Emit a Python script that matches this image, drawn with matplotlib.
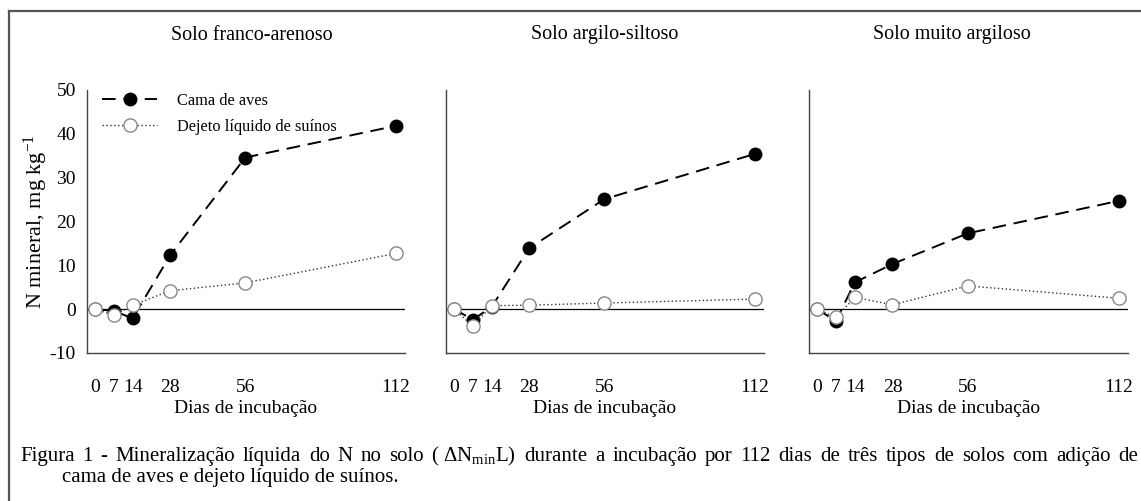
import matplotlib
matplotlib.use("Agg")
import matplotlib.pyplot as plt
from matplotlib.lines import Line2D

plt.rcParams["font.family"] = ["Liberation Serif", "DejaVu Serif"]
plt.rcParams["mathtext.fontset"] = "custom"
plt.rcParams["mathtext.rm"] = "Liberation Serif"
plt.rcParams["mathtext.it"] = "Liberation Serif:italic"
plt.rcParams["axes.unicode_minus"] = False

DAYS = [0, 7, 14, 28, 56, 112]
SOILS = ["Solo franco-arenoso", "Solo argilo-siltoso", "Solo muito argiloso"]
SERIES = ["Cama de aves", "Dejeto líquido de suínos"]

cama_aves = [
    [0.0, -0.4, -2.1, 12.3, 34.6, 41.8],
    [0.0, -2.4, 0.5, 13.9, 25.1, 35.4],
    [0.0, -2.7, 6.1, 10.3, 17.3, 24.7],
]
dejeto_suinos = [
    [0.0, -1.4, 0.9, 4.2, 6.0, 12.7],
    [0.0, -3.9, 0.8, 0.9, 1.4, 2.3],
    [0.0, -1.9, 2.7, 1.0, 5.3, 2.5],
]

CAPTION_1 = ("Figura 1 - Mineralização líquida do N no solo ( $\\Delta\\mathrm{N}_{\\mathrm{min}}$L) "
             "durante a incubação por 112 dias de três tipos de solos com adição de")
CAPTION_2 = "cama de aves e dejeto líquido de suínos."

W, H = 1141, 501
fig = plt.figure(figsize=(W / 100, H / 100), dpi=100)

# outer frame (only top and left edges visible in the original)
fig.add_artist(Line2D([9 / W, 9 / W], [0, 1 - 11 / H], color="#555555", lw=1.6))
fig.add_artist(Line2D([9 / W, 1], [1 - 11 / H, 1 - 11 / H], color="#555555", lw=1.6))

lefts = [87, 446, 809]
widths = [318, 318, 319]
title_x = [252, 605, 952]
for i, (soil, left, width) in enumerate(zip(SOILS, lefts, widths)):
    ax = fig.add_axes([left / W, 1 - 353 / H, width / W, 263 / H])
    ax.set_xlim(-3, 115.5)
    ax.set_ylim(-10, 50)
    ax.axhline(0, color="black", lw=0.9, zorder=1)
    ax.plot(DAYS, cama_aves[i], color="black", ls=(0, (7, 4)), lw=1.4,
            marker="o", ms=9, mfc="black", mec="black", zorder=3, label=SERIES[0])
    ax.plot(DAYS, dejeto_suinos[i], color="#333333", ls=(0, (1, 1.8)), lw=1.0,
            marker="o", ms=9.5, mfc="white", mec="#888888", mew=1.0, zorder=4,
            label=SERIES[1])
    for side in ["top", "right"]:
        ax.spines[side].set_visible(False)
    for side in ["left", "bottom"]:
        ax.spines[side].set_color("#444444")
        ax.spines[side].set_linewidth(1.0)
    ax.set_xticks(DAYS)
    ax.set_xticklabels([str(d) for d in DAYS])
    ax.tick_params(axis="x", length=0, pad=18.5, labelsize=14)
    ax.set_xlabel("Dias de incubação", fontsize=14, labelpad=3)
    if i == 0:
        ax.set_yticks(range(-10, 51, 10))
        ax.tick_params(axis="y", length=0, pad=8, labelsize=14)
        ax.set_ylabel("N mineral, mg kg$^{-1}$", fontsize=16, labelpad=0)
        ax.legend(loc="upper left", bbox_to_anchor=(0.0, 1.045), frameon=False,
                  fontsize=11.8, handlelength=3.4, handletextpad=1.2,
                  labelspacing=0.6)
    else:
        ax.set_yticks([])
    fig.text(title_x[i] / W, 1 - 35 / H, soil, ha="center", va="center",
             fontsize=14.4)

# caption: first line justified between x=20 and x=1138
renderer = fig.canvas.get_renderer()
words = CAPTION_1.replace("( $", "(\0$").split(" ")
words = [w.replace("\0", " ") for w in words]
texts = [fig.text(0, 1 - 461 / H, w, ha="left", va="baseline", fontsize=15)
         for w in words]
wpx = [t.get_window_extent(renderer).width for t in texts]
gap = (1138 - 20 - sum(wpx)) / (len(words) - 1)
x = 20
for t, w in zip(texts, wpx):
    t.set_x(x / W)
    x += w + gap
fig.text(62 / W, 1 - 482 / H, CAPTION_2, ha="left", va="baseline",
         fontsize=15)

fig.savefig("out.png", dpi=100)
